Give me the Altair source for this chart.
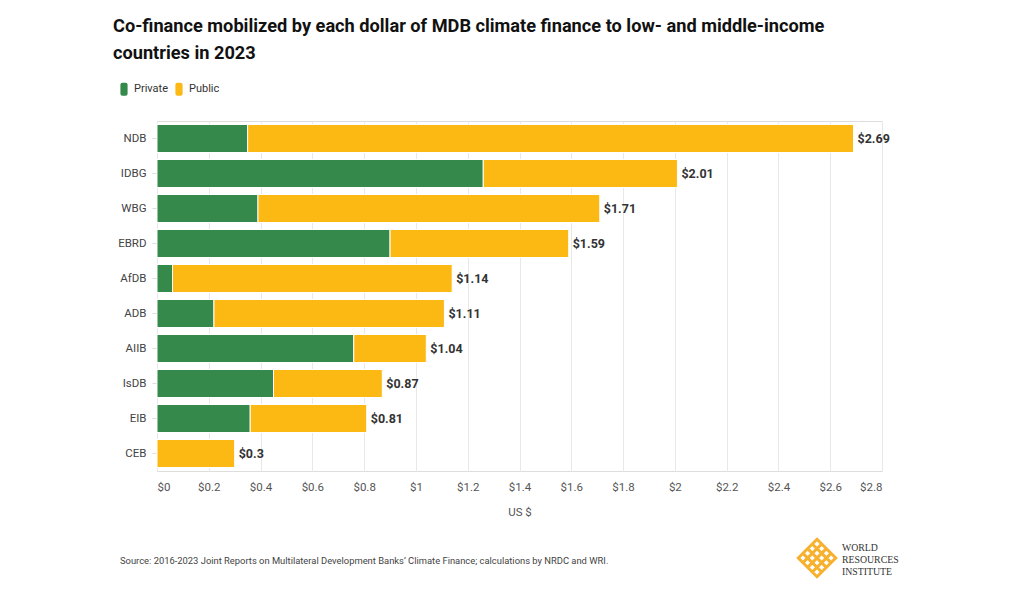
import altair as alt
import pandas as pd

banks = ["NDB", "IDBG", "WBG", "EBRD", "AfDB", "ADB", "AIIB", "IsDB", "EIB", "CEB"]
private = [0.35, 1.26, 0.39, 0.90, 0.06, 0.22, 0.76, 0.45, 0.36, 0.00]
public = [2.34, 0.75, 1.32, 0.69, 1.08, 0.89, 0.28, 0.42, 0.45, 0.30]
totals = [2.69, 2.01, 1.71, 1.59, 1.14, 1.11, 1.04, 0.87, 0.81, 0.30]
total_labels = ["$2.69", "$2.01", "$1.71", "$1.59", "$1.14", "$1.11", "$1.04", "$0.87", "$0.81", "$0.3"]
series = ["Private", "Public"]
colors = ["#35894B", "#FCB813"]
x_ticks = [0, 0.2, 0.4, 0.6, 0.8, 1, 1.2, 1.4, 1.6, 1.8, 2, 2.2, 2.4, 2.6, 2.8]

title_lines = [
    "Co-finance mobilized by each dollar of MDB climate finance to low- and middle-income",
    "countries in 2023",
]
source_text = "Source: 2016-2023 Joint Reports on Multilateral Development Banks\u2019 Climate Finance; calculations by NRDC and WRI."
logo_lines = ["WORLD", "RESOURCES", "INSTITUTE"]

FONT = "Roboto, Liberation Sans, sans-serif"

rows = []
for b, p, q in zip(banks, private, public):
    rows.append({"bank": b, "type": "Private", "value": p, "ord": 0})
    rows.append({"bank": b, "type": "Public", "value": q, "ord": 1})
df = pd.DataFrame(rows)
df_tot = pd.DataFrame({"bank": banks, "total": totals, "label": total_labels})

y_enc = alt.Y("bank:N", sort=banks, title=None,
              scale=alt.Scale(paddingInner=0.2, paddingOuter=0.1),
              axis=alt.Axis(labelFont=FONT, labelFontSize=11.5, labelColor="#444",
                            tickColor="#ddd", tickSize=5, domain=False, labelPadding=6))

bars = alt.Chart(df).mark_bar(stroke="white", strokeWidth=1).encode(
    y=y_enc,
    x=alt.X("value:Q", stack="zero", title="US $",
            scale=alt.Scale(domain=[0, 2.8], nice=False),
            axis=alt.Axis(values=x_ticks, labelExpr="'$' + datum.value",
                          labelFont=FONT, labelFontSize=11.5, labelColor="#555",
                          ticks=False, domain=False, gridColor="#e8e8e8",
                          labelPadding=10, titleFont=FONT, titleFontSize=11.5,
                          titleFontWeight="normal", titleColor="#555", titlePadding=14)),
    color=alt.Color("type:N", scale=alt.Scale(domain=series, range=colors),
                    legend=alt.Legend(orient="none", legendX=-40, legendY=-39,
                                      direction="horizontal", title=None,
                                      symbolType="M-0.55,-0.7 Q-0.55,-1 -0.25,-1 H0.25 Q0.55,-1 0.55,-0.7 V0.7 Q0.55,1 0.25,1 H-0.25 Q-0.55,1 -0.55,0.7 Z",
                                      symbolSize=170, symbolStrokeWidth=0, symbolOpacity=1,
                                      labelFont=FONT, labelFontSize=11, labelColor="#333",
                                      labelOffset=3, columnPadding=3)),
    order=alt.Order("ord:Q"),
)

labels = alt.Chart(df_tot).mark_text(align="left", baseline="middle", dx=4,
                                     font=FONT, fontSize=12.5, fontWeight="bold",
                                     color="#333").encode(
    y=alt.Y("bank:N", sort=banks),
    x=alt.X("total:Q"),
    text="label:N",
)

title = alt.Chart(pd.DataFrame({"t": [0]})).mark_text(
    text=title_lines, align="left", baseline="alphabetic", font=FONT,
    fontSize=18.2, fontWeight="bold", color="#111", lineHeight=27,
).encode(x=alt.value(-44), y=alt.value(-89.5))

source = alt.Chart(pd.DataFrame({"t": [0]})).mark_text(
    text=source_text, align="left", baseline="middle", font=FONT,
    fontSize=9.4, color="#444",
).encode(x=alt.value(-37), y=alt.value(440))

logo_text = alt.Chart(pd.DataFrame({"t": [0]})).mark_text(
    text=logo_lines, align="left", baseline="middle", font="Liberation Serif, serif",
    fontSize=9.8, color="#333", lineHeight=12,
).encode(x=alt.value(685), y=alt.value(427))

lattice = ("M-1,0 L0,-1 L1,0 L0,1 Z "
           "M-0.5,0.5 L0.5,-0.5 M-0.75,0.25 L0.25,-0.75 M-0.25,0.75 L0.75,-0.25 "
           "M-0.5,-0.5 L0.5,0.5 M-0.75,-0.25 L0.25,0.75 M-0.25,-0.75 L0.75,0.25")
logo_mark = alt.Chart(pd.DataFrame({"t": [0]})).mark_point(
    shape=lattice, filled=False, stroke="#F7B12F", strokeWidth=3, size=1400, opacity=1,
).encode(x=alt.value(660), y=alt.value(437))

chart = alt.layer(bars, labels, title, source, logo_text, logo_mark).properties(
    width=725, height=350,
    autosize=alt.AutoSizeParams(type="none"),
    padding={"left": 149, "top": 113, "right": 130, "bottom": 108},
).configure_view(stroke=None).configure(background="white")

chart.save("out.html", embed_options={"renderer": "svg", "actions": False})
